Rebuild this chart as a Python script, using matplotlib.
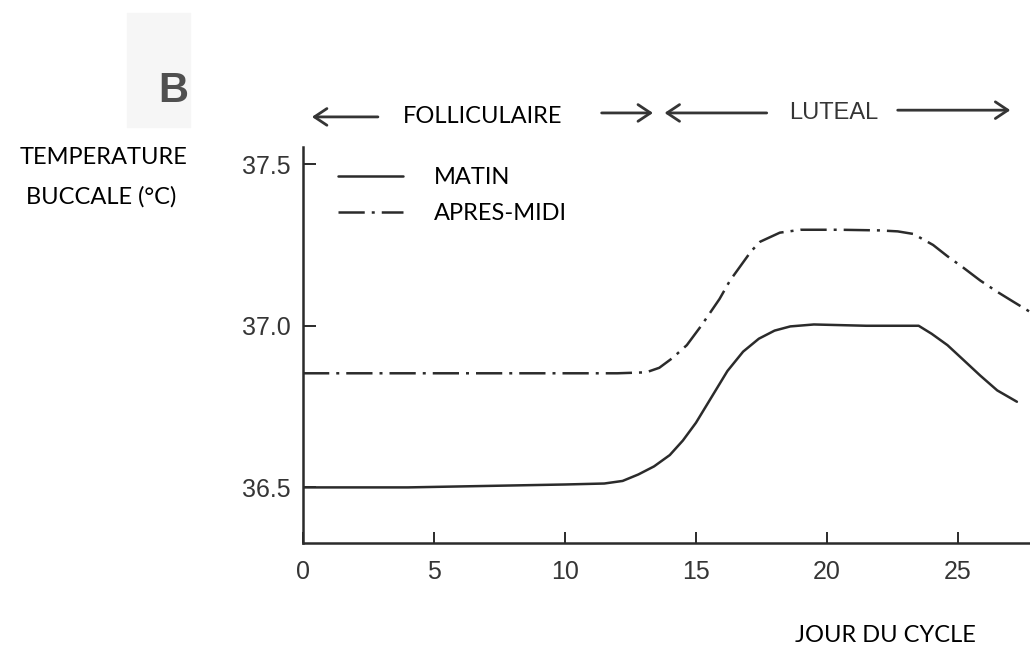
import matplotlib.pyplot as plt
import matplotlib.patches as mpatches
from matplotlib.transforms import blended_transform_factory

# values
days_matin = [0, 2, 4, 6, 8, 10, 11.5, 12.2, 12.8, 13.4, 14.0, 14.5, 15.0, 15.6,
              16.2, 16.8, 17.4, 18.0, 18.6, 19.5, 20.5, 21.5, 22.5, 23.5, 24.0,
              24.6, 25.2, 25.85, 26.5, 27.25]
temp_matin = [36.50, 36.50, 36.50, 36.503, 36.506, 36.509, 36.512, 36.52, 36.54,
              36.565, 36.60, 36.645, 36.70, 36.78, 36.86, 36.92, 36.96, 36.985,
              36.998, 37.004, 37.002, 37.0, 37.0, 37.0, 36.975, 36.94, 36.895,
              36.846, 36.80, 36.765]

days_apm = [0, 3, 6, 9, 12, 13.1, 13.6, 14.1, 14.65, 15.2, 15.9, 16.3, 16.7, 17.1,
            17.45, 18.2, 19.0, 20.5, 22.0, 22.7, 23.3, 24.05, 24.6, 25.2, 25.85,
            26.5, 27.1, 27.75]
temp_apm = [36.853, 36.853, 36.853, 36.853, 36.853, 36.856, 36.87, 36.90, 36.94,
            37.0, 37.083, 37.14, 37.185, 37.23, 37.26, 37.288, 37.297, 37.297,
            37.295, 37.292, 37.284, 37.25, 37.215, 37.18, 37.14, 37.105, 37.075,
            37.043]

x_ticks = [0, 5, 10, 15, 20, 25]
y_ticks = [36.5, 37.0, 37.5]
y_tick_labels = ["36.5", "37.0", "37.5"]

# phase arrows (day positions)
folli_left = (2.86, 0.34)
folli_right = (11.4, 13.36)
lut_left = (17.7, 13.8)
lut_right = (22.7, 27.0)
folli_center = 6.87
lut_center = 20.27

ink = "#2b2b2b"
gray_ink = "#353535"
scan_font = ["Liberation Sans", "DejaVu Sans"]
word_font = ["Lato", "DejaVu Sans"]

fig = plt.figure(figsize=(10.3, 6.47), dpi=100)
# light grey patch of the scan behind the panel letter
fig.patches.append(mpatches.Rectangle((127 / 1030, 1 - 127 / 647), 63 / 1030, 114 / 647,
                                      transform=fig.transFigure, color="#f6f6f6",
                                      zorder=-1))

ax = fig.add_axes([303 / 1030, 1 - 543 / 647, 727 / 1030, 396 / 647])
ax.set_facecolor("none")

ax.plot(days_matin, temp_matin, color=ink, lw=1.8, label="MATIN",
        solid_capstyle="round")
ax.plot(days_apm, temp_apm, color=ink, lw=1.8, label="APRES-MIDI",
        linestyle=(0, (10.5, 2.8, 1.2, 2.8)), dash_capstyle="butt")

ax.set_xlim(0, 27.75)
ax.set_ylim(36.328, 37.553)

for side in ["top", "right"]:
    ax.spines[side].set_visible(False)
for side in ["left", "bottom"]:
    ax.spines[side].set_linewidth(1.8)
    ax.spines[side].set_color(ink)

ax.set_xticks(x_ticks)
ax.set_xticklabels([str(t) for t in x_ticks], family=scan_font, fontsize=18,
                   color=gray_ink)
ax.set_yticks(y_ticks)
ax.set_yticklabels(y_tick_labels, family=scan_font, fontsize=18, color=gray_ink)
ax.tick_params(axis="x", direction="in", length=8, width=1.4, color=ink, pad=12)
ax.tick_params(axis="y", direction="in", length=9, width=1.4, color=ink, pad=9)

leg = ax.legend(loc="upper left", bbox_to_anchor=(0.048, 0.950), frameon=False,
                handlelength=2.75, handletextpad=1.3, labelspacing=0.64,
                borderpad=0, borderaxespad=0,
                prop={"family": word_font, "size": 17})

# phase arrows above the plot
trans = blended_transform_factory(ax.transData, ax.transAxes)
arrow_props = dict(arrowstyle="->,head_length=0.45,head_width=0.3", lw=2,
                   color=gray_ink, shrinkA=0, shrinkB=0, mutation_scale=20)
for (tail, head), yy in [(folli_left, 1.076), (folli_right, 1.086),
                         (lut_left, 1.086), (lut_right, 1.093)]:
    ax.annotate("", xy=(head, yy), xytext=(tail, yy), xycoords=trans,
                textcoords=trans, arrowprops=arrow_props, annotation_clip=False)

ax.text(folli_center, 1.076, "FOLLICULAIRE", transform=trans, ha="center",
        va="center", family=word_font, fontsize=17, color="black")
ax.text(lut_center, 1.086, "LUTEAL", transform=trans, ha="center", va="center",
        family=scan_font, fontsize=17, color=gray_ink)

fig.text(173 / 1030, 1 - 91 / 647, "B", ha="center", va="center",
         family=scan_font, fontweight="bold", fontsize=30, color="#505050")
fig.text(104 / 1030, 1 - 158 / 647, "TEMPERATURE", ha="center", va="center",
         family=word_font, fontsize=17)
fig.text(101 / 1030, 1 - 197 / 647, "BUCCALE (°C)", ha="center", va="center",
         family=word_font, fontsize=17)
fig.text(885 / 1030, 1 - 635 / 647, "JOUR DU CYCLE", ha="center", va="center",
         family=word_font, fontsize=17)

fig.savefig("out.png", dpi=100)
